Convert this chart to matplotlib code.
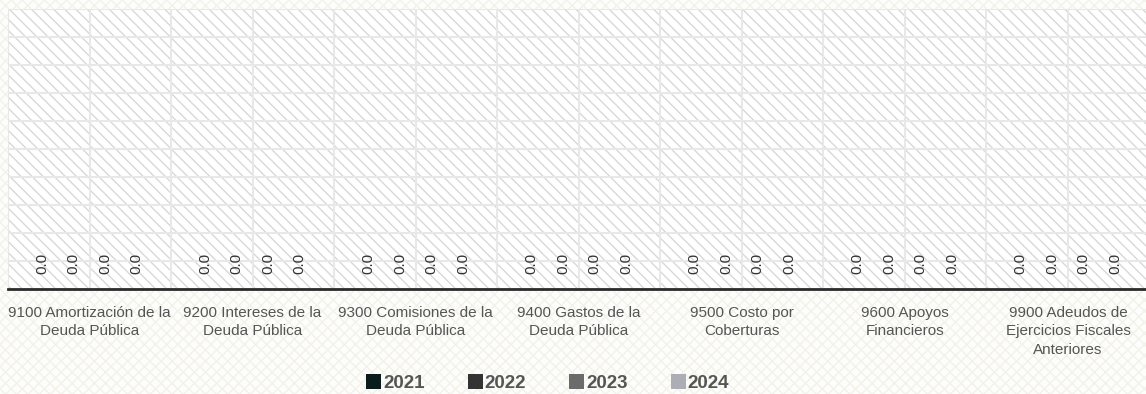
import matplotlib
matplotlib.use("Agg")
import matplotlib.pyplot as plt
from matplotlib.patches import Patch, Rectangle
import numpy as np

plt.rcParams['font.family'] = ['Liberation Sans', 'DejaVu Sans']
plt.rcParams['hatch.linewidth'] = 1.0

categories = [
    "9100 Amortización de la\nDeuda Pública",
    "9200 Intereses de la\nDeuda Pública",
    "9300 Comisiones de la\nDeuda Pública",
    "9400 Gastos de la\nDeuda Pública",
    "9500 Costo por\nCoberturas",
    "9600 Apoyos\nFinancieros",
    "9900 Adeudos de\nEjercicios Fiscales\nAnteriores",
]
years = ["2021", "2022", "2023", "2024"]
values_2021 = [0.0, 0.0, 0.0, 0.0, 0.0, 0.0, 0.0]
values_2022 = [0.0, 0.0, 0.0, 0.0, 0.0, 0.0, 0.0]
values_2023 = [0.0, 0.0, 0.0, 0.0, 0.0, 0.0, 0.0]
values_2024 = [0.0, 0.0, 0.0, 0.0, 0.0, 0.0, 0.0]
series = [values_2021, values_2022, values_2023, values_2024]
colors = ["#0b1c1c", "#333333", "#6b6b6b", "#adadb5"]

W, H = 1146, 394
fig = plt.figure(figsize=(W / 100, H / 100), dpi=100)
fig.patch.set_facecolor("#fdfdfb")

# faint cross-hatched page background
bg = Rectangle((0, 0), 1, 1, transform=fig.transFigure, facecolor="#fdfdfb",
               edgecolor="#f2f2ea", hatch="xxx", linewidth=0, zorder=-10)
fig.patches.append(bg)

left = 8 / W
width = (1149.5 - 8) / W
bottom = (H - 289) / H
height = (289 - 9) / H
ax = fig.add_axes([left, bottom, width, height])
ax.set_facecolor("white")
ax.patch.set_hatch("\\\\\\")
ax.patch.set_edgecolor("#d8d8d8")
ax.patch.set_linewidth(0)

x = np.arange(len(categories))
bw = 0.193
offsets = (np.arange(len(years)) - 1.5) * bw
for vals, off, col, yr in zip(series, offsets, colors, years):
    bars = ax.bar(x + off, vals, width=bw, color=col, label=yr, zorder=3)
    for rect, v in zip(bars, vals):
        ax.annotate(f"{v:.1f}", (rect.get_x() + rect.get_width() / 2, rect.get_height()),
                    xytext=(0, 11), textcoords="offset points",
                    ha="center", va="bottom", rotation=90,
                    fontsize=11, color="#333333", zorder=4)

ax.set_xlim(-0.5, len(categories) - 0.5)
ax.set_ylim(0, 1)
ax.set_yticks(np.linspace(0, 1, 11))
ax.set_yticklabels([])
ax.set_xticks(np.arange(-0.5, len(categories), 1.0), minor=True)
ax.set_xticks(x)
ax.set_xticklabels(categories, fontsize=11, color="#555555", linespacing=1.42)
ax.tick_params(axis="both", which="both", length=0)
ax.tick_params(axis="x", pad=12)

ax.grid(True, axis="y", color="#e8e8e8", linewidth=1.5, zorder=1)
ax.grid(True, axis="x", which="both", color="#e8e8e8", linewidth=1.5, zorder=1)
ax.set_axisbelow(True)
for side in ["top", "right", "left"]:
    ax.spines[side].set_visible(False)
ax.spines["bottom"].set_color("#2b2b2b")
ax.spines["bottom"].set_linewidth(2)
ax.spines["bottom"].set_zorder(5)

handles = [Patch(facecolor=c, edgecolor="none", label=y) for c, y in zip(colors, years)]
leg = fig.legend(handles=handles, loc="center", bbox_to_anchor=(0.478, 1 - 383 / H),
                 ncol=4, frameon=False, handlelength=0.8, handleheight=0.8,
                 handletextpad=0.1, columnspacing=2.3,
                 prop={"size": 13.5, "weight": "bold"})
for t in leg.get_texts():
    t.set_color("#555555")

fig.savefig("out.png", dpi=100, facecolor=fig.get_facecolor())
